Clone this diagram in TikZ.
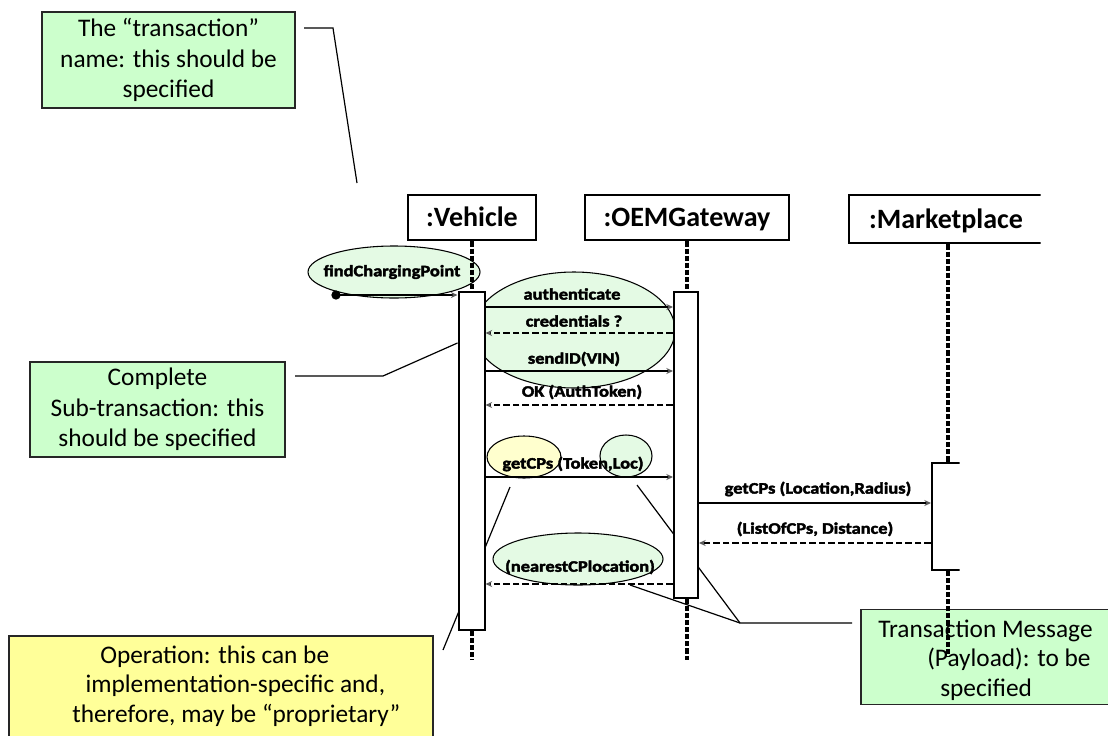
\documentclass[tikz,border=0pt]{standalone}
\usepackage{fontspec}
\setmainfont{Carlito}
\newfontfamily\msgfont[FakeStretch=1.15,FakeBold=2.5]{Carlito}
\usetikzlibrary{arrows.meta,shapes.geometric}
\definecolor{notegreen}{RGB}{204,255,204}
\definecolor{noteyellow}{RGB}{255,255,153}
\definecolor{ellgreen}{RGB}{228,250,228}
\definecolor{ellyellow}{RGB}{255,255,206}
\definecolor{tipgray}{RGB}{90,90,90}

\begin{document}
\begin{tikzpicture}[x=0.75pt,y=-0.75pt,
  note/.style={draw=black!85, line width=0.9pt, align=center, inner sep=0pt,
    font=\fontsize{19}{23}\selectfont},
  notetext/.style={inner sep=0pt, align=left, font=\fontsize{19}{22}\selectfont},
  head/.style={draw, line width=2.2pt, fill=white, inner sep=0pt,
    text height=14pt, text depth=0pt, font=\bfseries\fontsize{21}{25}\selectfont},
  act/.style={draw, line width=1.5pt, fill=white, inner sep=0pt},
  life/.style={line width=2.8pt, dash pattern=on 3.8pt off 1.5pt},
  msg/.style={line width=1.5pt, -{Stealth[length=5pt,width=4.5pt,color=tipgray]}},
  reply/.style={msg, dash pattern=on 5pt off 2.2pt},
  lbl/.style={inner sep=0pt, font=\msgfont\bfseries\fontsize{12}{13}\selectfont},
  blob/.style={ellipse, draw, line width=0.8pt, fill=ellgreen, inner sep=0pt},
  callout/.style={line width=0.9pt}
]
\useasboundingbox (0,0) rectangle (1108,736);
\begin{scope}
\clip (0,0) rectangle (1108,736);

% annotation boxes
\node[note, fill=notegreen, minimum width=189.75pt, minimum height=72pt] (topnote) at (168.5,60)
  {The “transaction”\\ name: this should be\\ specified};
\node[note, fill=notegreen, minimum width=191.25pt, minimum height=71.25pt] (subnote) at (157.5,409.5)
  {Complete\\ Sub-transaction: this\\ should be specified};
\node[note, fill=noteyellow, minimum width=318pt, minimum height=82.5pt] (opnote) at (221,691) {};
\node[notetext, anchor=west] (optext) at (72,686)
  {\hspace*{21pt}Operation: this can be\\ \hspace*{10pt}implementation-specific and,\\ therefore, may be “proprietary”};
\node[note, fill=notegreen, minimum width=190.5pt, minimum height=71.25pt] (msgnote) at (988,657) {};
\node[notetext, anchor=west] (msgtext) at (878,660)
  {Transaction Message\\ \hspace*{36.75pt}(Payload): to be\\ \hspace*{46.5pt}specified};

% highlighted regions
\node[blob, minimum width=129pt, minimum height=39pt] (fblob) at (394,272) {};
\node[blob, minimum width=151.5pt, minimum height=87pt] (authblob) at (574,330) {};
\node[blob, fill=ellyellow, minimum width=55.5pt, minimum height=31.5pt] (opblob) at (524,457) {};
\node[blob, minimum width=39pt, minimum height=31.5pt] (argblob) at (626,456) {};
\node[blob, minimum width=127.5pt, minimum height=39pt] (retblob) at (578,559) {};

% callout leaders
\coordinate (k1a) at (304,28);
\coordinate (k1b) at (333,28);
\coordinate (k1c) at (357,183);
\draw[callout] (k1a) -- (k1b) -- (k1c);
\coordinate (k2a) at (295,376);
\coordinate (k2b) at (383,376);
\coordinate (k3a) at (443,650);
\coordinate (k3b) at (510,487);
\draw[callout] (k3a) -- (k3b);
\coordinate (k4a) at (852,623);
\coordinate (k4b) at (740,623);
\coordinate (k4c) at (637,485);
\coordinate (k4d) at (630,585);
\draw[callout] (k4a) -- (k4b) -- (k4c);
\draw[callout] (k4b) -- (k4d);

% headers
\node[head, minimum width=96pt, minimum height=33.75pt] (veh) at (472,217.5) {:Vehicle};
\node[head, minimum width=153pt, minimum height=33.75pt] (oem) at (687,217.5) {:OEMGateway};
\begin{scope}
\clip (0,0) rectangle (1040.5,736);
\node[head, minimum width=145.5pt, minimum height=36pt] (mk) at (946,219) {:Marketplace};
\end{scope}

% activation bars
\node[act, minimum width=19.5pt, minimum height=253.5pt] (vact) at (471.5,461) {};
\node[act, minimum width=18pt, minimum height=229.5pt] (oact) at (686,445) {};
\begin{scope}
\clip (0,0) rectangle (959.5,736);
\node[act, minimum width=24pt, minimum height=80.25pt] (mact) at (948,516.5) {};
\end{scope}
\draw[callout] (k2a) -- (k2b) -- (vact.west |- 0,343);

% lifelines
\coordinate (vend) at (472,660);
\coordinate (oend) at (687,660);
\coordinate (mend) at (948,657);
\draw[life] (veh.south) -- (veh.south |- vact.north);
\draw[life] (veh.south |- vact.south) -- (vend);
\draw[life] (oem.south) -- (oem.south |- oact.north);
\draw[life] (oem.south |- oact.south) -- (oend);
\draw[life] (mact.north |- mk.south) -- (mact.north);
\draw[life] (mact.south) -- (mend);

% messages
\node[circle, fill, inner sep=0pt, minimum size=7pt] (fdot) at (336,295) {};
\draw[msg] (fdot.center) -- (vact.west |- fdot.center);
\draw[msg] (vact.east |- 0,307) -- (oact.west |- 0,307);
\draw[reply] (oact.west |- 0,333) -- (vact.east |- 0,333);
\draw[msg] (vact.east |- 0,371) -- (oact.west |- 0,371);
\draw[reply] (oact.west |- 0,405) -- (vact.east |- 0,405);
\draw[msg] (vact.east |- 0,477) -- (oact.west |- 0,477);
\draw[msg] (oact.east |- 0,503) -- (mact.west |- 0,503);
\draw[reply] (mact.west |- 0,543) -- (oact.east |- 0,543);
\draw[reply] (oact.west |- 0,584) -- (vact.east |- 0,584);

% message labels
\node[lbl] (l1) at (392,272) {findChargingPoint};
\node[lbl] (l2) at (572,294) {authenticate};
\node[lbl] (l3) at (574,321) {credentials ?};
\node[lbl] (l4) at (574,359) {sendID(VIN)};
\node[lbl] (l5) at (582,392) {OK (AuthToken)};
\node[lbl] (l6) at (573,464) {getCPs (Token,Loc)};
\node[lbl] (l7) at (818,489) {getCPs (Location,Radius)};
\node[lbl] (l8) at (815,529) {(ListOfCPs, Distance)};
\node[lbl] (l9) at (580,567) {(nearestCPlocation)};
\end{scope}
\end{tikzpicture}
\end{document}
